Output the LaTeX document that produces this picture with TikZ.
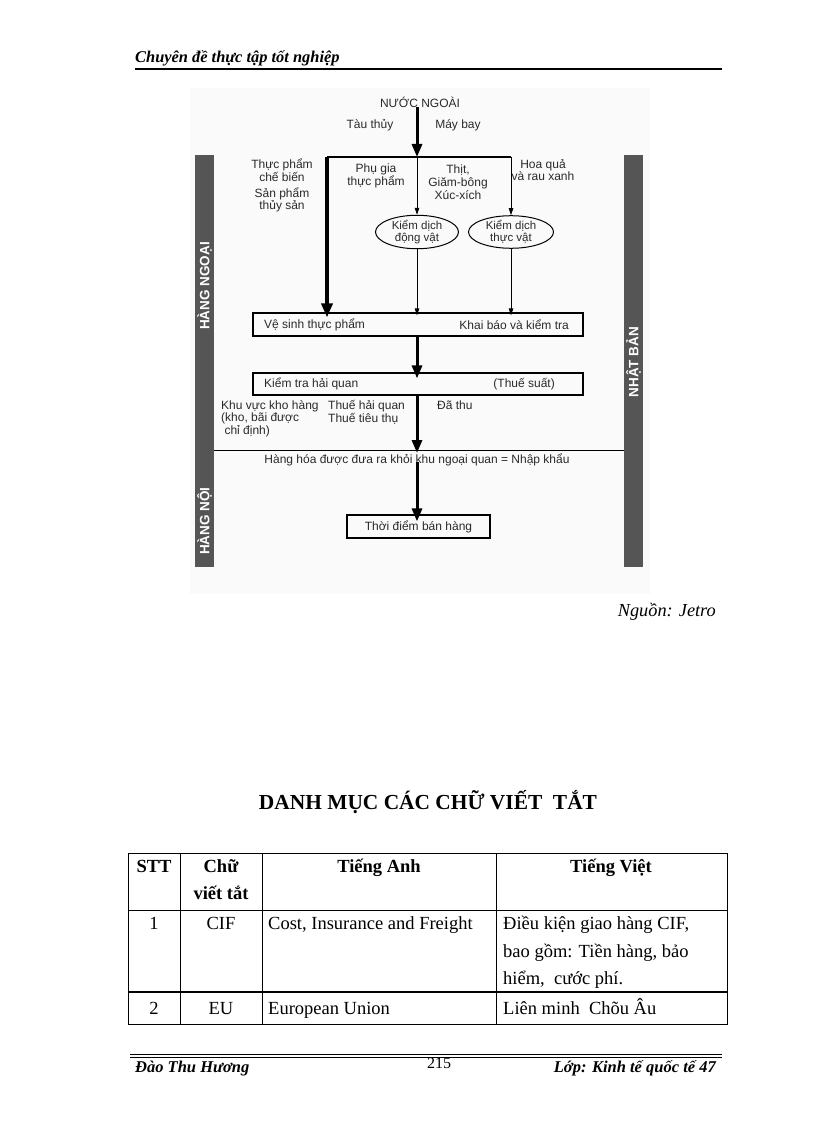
\documentclass[tikz,border=0pt]{standalone}
\usepackage{fontspec}
\setmainfont{Liberation Serif}
\newfontfamily\dsf{Liberation Sans}
\usetikzlibrary{arrows.meta,shapes.geometric}
\definecolor{barc}{HTML}{555555}
\definecolor{dtext}{HTML}{2A2A2A}
\tikzset{
  dtxt/.style={font=\dsf\fontsize{12}{12.8}\selectfont, text=dtext, inner sep=0pt, align=center},
  bigarr/.style={line width=3pt, -{Triangle[length=13pt,width=10pt]}},
  thinarr/.style={line width=0.7pt, -{Triangle[length=7pt,width=4.5pt]}},
  dbox/.style={draw, line width=1.1pt, inner sep=0pt},
  oval/.style={ellipse, draw, line width=1pt, inner sep=0pt, align=center, font=\dsf\fontsize{11.5}{12}\selectfont, text=dtext},
  bartxt/.style={rotate=90, font=\dsf\bfseries\fontsize{13.5}{13.5}\selectfont, text=white, inner sep=0pt},
  serif/.style={inner sep=0pt, font=\fontsize{18.5}{18.5}\selectfont},
  hdbold/.style={inner sep=0pt, font=\bfseries\fontsize{18.5}{18.5}\selectfont},
  tline/.style={line width=0.8pt}
}
\begin{document}
\begin{tikzpicture}[x=1pt,y=-1pt]
\useasboundingbox (0,0) rectangle (816,1123);
\fill[white] (0,0) rectangle (816,1123);

% header
\node[anchor=base west, inner sep=0pt, font=\bfseries\itshape\fontsize{16.4}{16.4}\selectfont] (hdr) at (135,63) {Chuyên đề thực tập tốt nghiệp};
\draw[line width=2pt] (135,69) -- (722,69);

% diagram background
\fill[black!2] (190,88) rectangle (650,594);

% side bars
\coordinate (divL) at (195,450);
\coordinate (divR) at (643,450);
\draw[line width=1pt] (divL) -- (divR);
\fill[barc] (195,155) rectangle (214,567);
\fill[barc] (624,155) rectangle (643,567);
\node[bartxt] (hngoai) at (204.5,286) {HÀNG NGOẠI};
\node[bartxt] (hnoi) at (204.5,521) {HÀNG NỘI};
\node[bartxt] (nban) at (633.5,362) {NHẬT BẢN};

% top
\node[dtxt] (nn) at (420,102) {NƯỚC NGOÀI};
\node[dtxt] (tau) at (370,125) {Tàu thủy};
\node[dtxt] (may) at (458,125) {Máy bay};
\coordinate (split) at (417,157);
\coordinate (tl) at (327,157);
\coordinate (tr) at (511,157);
\draw[bigarr] (nn.south -| split) -- (split);
\draw[line width=1.1pt] (tl) -- (tr);

% category labels
\node[dtxt] (tp1) at (282,170) {Thực phẩm\\chế biến};
\node[dtxt] (tp2) at (282,200) {Sản phẩm\\thủy sản};
\node[dtxt] (pg) at (376,176) {Phụ gia\\thực phẩm};
\node[dtxt] (thit) at (458,182) {Thịt,\\Giăm-bông\\Xúc-xích};
\node[dtxt] (hq) at (543,170) {Hoa quả\\và rau xanh};

% ellipses
\node[oval, minimum width=83pt, minimum height=31pt] (kdv) at (417,232) {Kiểm dịch\\động vật};
\node[oval, minimum width=85pt, minimum height=31pt] (kdt) at (511,232) {Kiểm dịch\\thực vật};

% box 1
\node[dbox, minimum width=330pt, minimum height=23pt] (b1) at (418,324.5) {};
\node[dtxt, anchor=west] (vs) at (264,324.5) {Vệ sinh thực phẩm};
\node[dtxt, anchor=east] (kb) at (569,324.5) {Khai báo và kiểm tra};

\draw[line width=4pt, -{Triangle[length=14pt,width=11pt]}] (tl) -- ([yshift=-5pt]tl |- b1.north);
\draw[thinarr] (split) -- (kdv.north);
\draw[thinarr] (tr) -- (kdt.north);
\draw[thinarr] (kdv.south) -- ([yshift=-3pt]kdv.south |- b1.north);
\draw[thinarr] (kdt.south) -- ([yshift=-3pt]kdt.south |- b1.north);

% box 2
\node[dbox, minimum width=330pt, minimum height=22pt] (b2) at (418,384) {};
\node[dtxt, anchor=west] (kt) at (264,384) {Kiểm tra hải quan};
\node[dtxt, anchor=east] (ts) at (555,384) {(Thuế suất)};
\draw[bigarr] (b1.south -| split) -- ([yshift=-6pt]split |- b2.north);
\draw[bigarr] (b2.south -| split) -- ([yshift=-3pt]split |- divL);

\node[dtxt, anchor=north west, align=left] (kv) at (221,400) {Khu vực kho hàng\\(kho, bãi được\\\ chỉ định)};
\node[dtxt, anchor=north west, align=left] (thq) at (328,400) {Thuế hải quan\\Thuế tiêu thụ};
\node[dtxt, anchor=north west] (dt) at (437,400.8) {Đã thu};

% bottom
\node[dtxt] (hh) at (417,460) {Hàng hóa được đưa ra khỏi khu ngoại quan = Nhập khẩu};
\node[dbox, minimum width=143pt, minimum height=23pt] (b3) at (418.5,526.5) {};
\node[dtxt] (tdb) at (b3.center) {Thời điểm bán hàng};
\draw[bigarr] ([yshift=4pt]hh.south -| split) -- ([yshift=-7pt]split |- b3.north);

% source
\node[anchor=base east, inner sep=0pt, font=\itshape\fontsize{18.3}{18.3}\selectfont] (src) at (716,616) {Nguồn: Jetro};

% title
\node[anchor=base, inner sep=0pt, font=\bfseries\fontsize{21.4}{21.4}\selectfont] (title) at (428,809) {DANH MỤC CÁC CHỮ VIẾT\ \ TẮT};

% table
\draw[tline] (128,853) rectangle (727,1024);
\draw[tline] (180,853) -- (180,1024);
\draw[tline] (262,853) -- (262,1024);
\draw[tline] (496,853) -- (496,1024);
\draw[tline] (128,910) -- (727,910);
\draw[line width=2pt] (128,992) -- (727,992);

\node[hdbold, anchor=base] (h0) at (154,872) {STT};
\node[hdbold, anchor=base] (h1) at (221,872) {Chữ};
\node[hdbold, anchor=base] (h1b) at (221,899) {viết tắt};
\node[hdbold, anchor=base] (h2) at (379,872) {Tiếng Anh};
\node[hdbold, anchor=base] (h3) at (611,872) {Tiếng Việt};

\node[serif, anchor=base] (r1a) at (154,929) {1};
\node[serif, anchor=base] (r1b) at (221,929) {CIF};
\node[serif, anchor=base west] (r1c) at (268,929) {Cost, Insurance and Freight};
\node[serif, anchor=base west] (r1d) at (503,929) {Điều kiện giao hàng CIF,};
\node[serif, anchor=base west] (r1e) at (503,957) {bao gồm: Tiền hàng, bảo};
\node[serif, anchor=base west] (r1f) at (503,984) {hiểm,\ \ cước phí.};

\node[serif, anchor=base] (r2a) at (154,1014) {2};
\node[serif, anchor=base] (r2b) at (221,1014) {EU};
\node[serif, anchor=base west] (r2c) at (268,1014) {European Union};
\node[serif, anchor=base west] (r2d) at (503,1014) {Liên minh\ \ Chõu Âu};

% footer
\draw[line width=1pt] (130,1054) -- (722,1054);
\draw[line width=1pt] (130,1057.5) -- (722,1057.5);
\node[anchor=base west, inner sep=0pt, font=\bfseries\itshape\fontsize{16.5}{16.5}\selectfont] (auth) at (135,1072) {Đào Thu Hương};
\node[anchor=base, inner sep=0pt, font=\fontsize{16}{16}\selectfont] (pgn) at (439,1068) {215};
\node[anchor=base east, inner sep=0pt, font=\bfseries\itshape\fontsize{16.5}{16.5}\selectfont] (cls) at (716,1072) {Lớp: Kinh tế quốc tế 47};
\end{tikzpicture}
\end{document}
